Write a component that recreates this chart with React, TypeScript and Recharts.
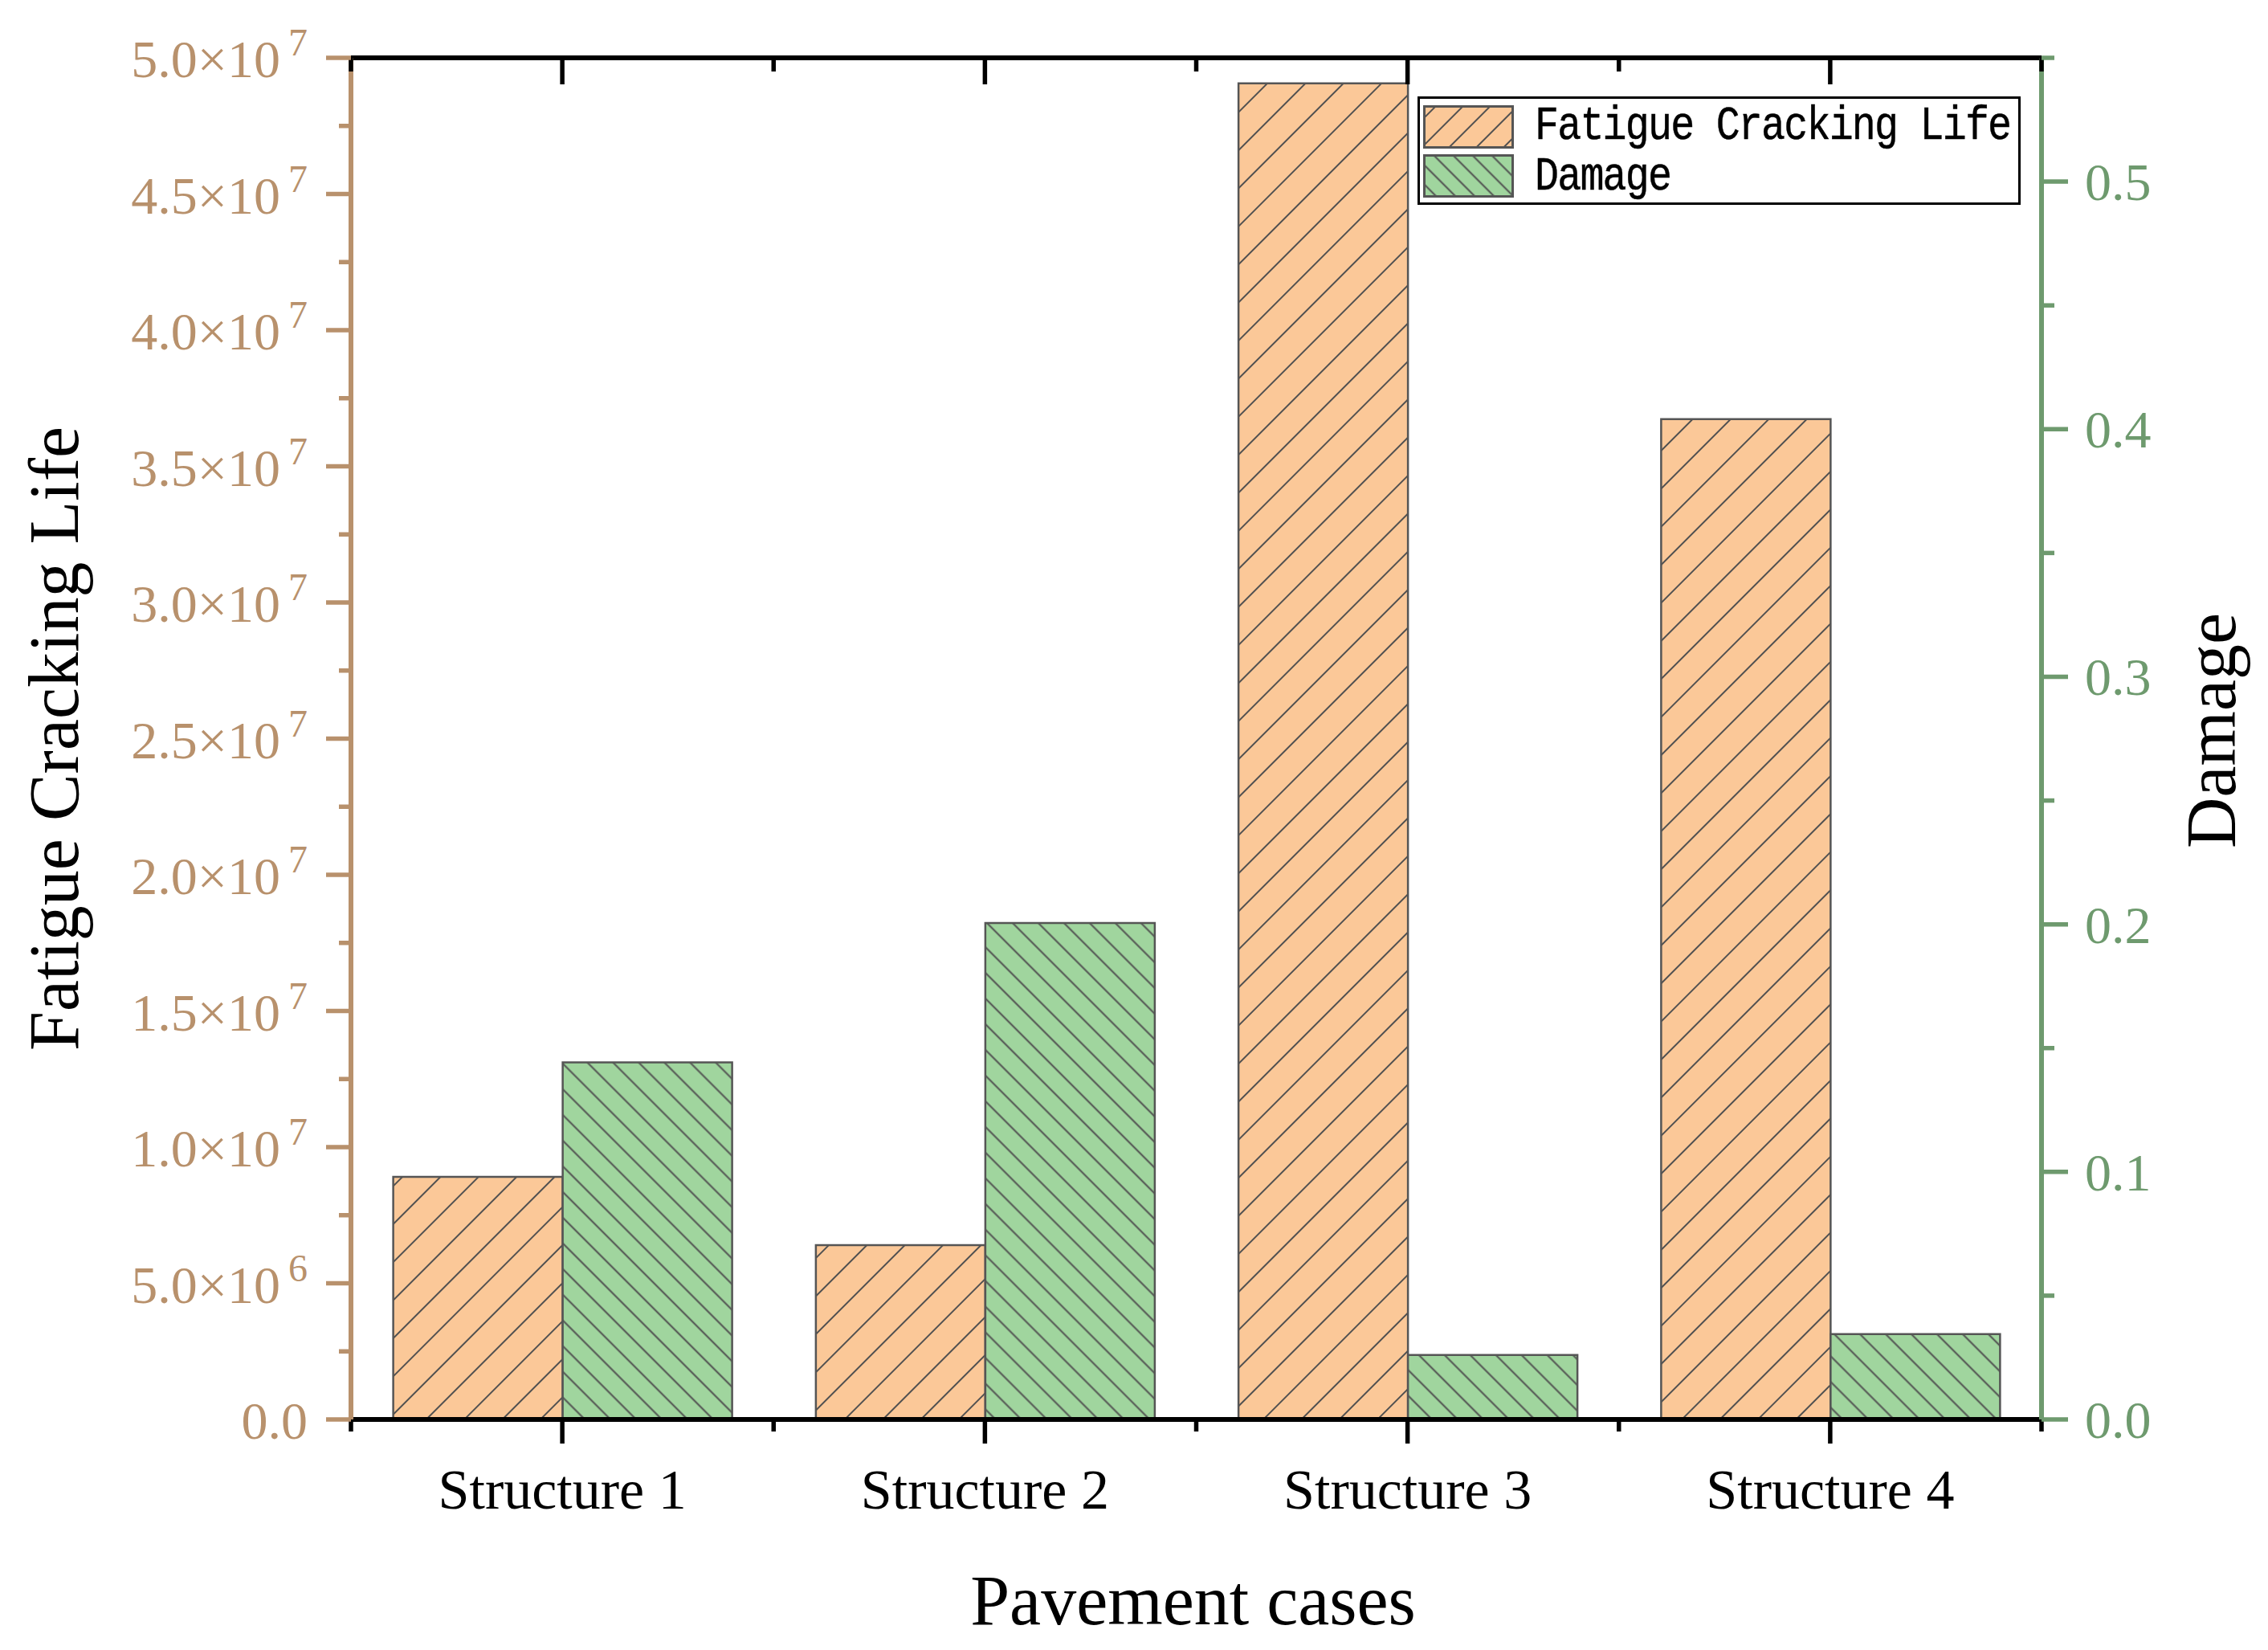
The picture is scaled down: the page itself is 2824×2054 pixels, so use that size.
import React from 'react';
import { ComposedChart, Bar, Line, XAxis, YAxis, Legend } from 'recharts';

// ---------- data ----------
const categories = ['Structure 1', 'Structure 2', 'Structure 3', 'Structure 4'];
const fatigueLife = [8.91e6, 6.4e6, 4.906e7, 3.673e7];
const damage = [0.1442, 0.2005, 0.026, 0.0345];
const seriesNames = ['Fatigue Cracking Life', 'Damage'];

const leftMajorTicks = [0, 5e6, 1e7, 1.5e7, 2e7, 2.5e7, 3e7, 3.5e7, 4e7, 4.5e7, 5e7];
const leftMinorTicks = [2.5e6, 7.5e6, 1.25e7, 1.75e7, 2.25e7, 2.75e7, 3.25e7, 3.75e7, 4.25e7, 4.75e7];
const rightMajorTicks = [0, 0.1, 0.2, 0.3, 0.4, 0.5];
const rightMinorTicks = [0.05, 0.15, 0.25, 0.35, 0.45, 0.55];

const data = categories.map((name, i) => ({ name, life: fatigueLife[i], damage: damage[i] }));
const leftAllTicks = [...leftMajorTicks, ...leftMinorTicks].sort((a, b) => a - b);
const rightAllTicks = [...rightMajorTicks, ...rightMinorTicks].sort((a, b) => a - b);

// ---------- styles ----------
const SERIF = "'Liberation Serif', 'Times New Roman', serif";
const MONO = "'Liberation Mono', 'Courier New', monospace";
const TAN = '#b8916c';
const GREEN_AXIS = '#6e9a6e';
const ORANGE = '#fbc898';
const GREEN = '#a0d59e';
const HATCH = '#505050';
const AXIS_W = 6;
const TICK_W = 5.5;
const CHART_W = 2824;
const CHART_H = 2054;
const LEFT_W = 437;
const RIGHT_W = 282;
const PLOT_W = CHART_W - LEFT_W - RIGHT_W;

const isMajor = (list: number[], v: number) => list.some((t) => Math.abs(t - v) < 1e-9 * Math.max(1, Math.abs(t)));

const formatLeft = (v: number) => {
  if (v === 0) return { mant: '0.0', exp: '' };
  const e = Math.floor(Math.log10(v) + 1e-9);
  const m = v / Math.pow(10, e);
  return { mant: m.toFixed(1), exp: String(e) };
};

const LeftTick = (props: any) => {
  const { x, y, payload } = props;
  const major = isMajor(leftMajorTicks, payload.value);
  const len = major ? 31 : 15;
  const { mant, exp } = formatLeft(payload.value);
  return (
    <g>
      <line x1={x - len} x2={x} y1={y} y2={y} stroke={TAN} strokeWidth={TICK_W} />
      {major ? (
        <text x={x - 54} y={y} dy={24} textAnchor="end" fill={TAN} fontSize={66} fontFamily={SERIF}>
          {exp ? `${mant}×10` : mant}
          {exp ? (
            <tspan dx={10} dy={-27} fontSize={48}>
              {exp}
            </tspan>
          ) : null}
        </text>
      ) : null}
    </g>
  );
};

const RightTick = (props: any) => {
  const { x, y, payload } = props;
  const major = isMajor(rightMajorTicks, payload.value);
  const len = major ? 33 : 16;
  return (
    <g>
      <line x1={x} x2={x + len} y1={y} y2={y} stroke={GREEN_AXIS} strokeWidth={TICK_W} />
      {major ? (
        <text x={x + 54} y={y} dy={23} textAnchor="start" fill={GREEN_AXIS} fontSize={66} fontFamily={SERIF}>
          {Number(payload.value).toFixed(1)}
        </text>
      ) : null}
    </g>
  );
};

const bandOf = (props: any) => {
  const w = Number(props.width);
  const n = Number(props.visibleTicksCount);
  if (w > 0 && n > 0 && w > 1000) return w / n;
  return PLOT_W / categories.length;
};

const BottomTick = (props: any) => {
  const { x, y, payload, index, visibleTicksCount } = props;
  const half = bandOf(props) / 2;
  const last = index === (visibleTicksCount || categories.length) - 1;
  return (
    <g>
      <line x1={x} x2={x} y1={y} y2={y + 30} stroke="#000" strokeWidth={TICK_W} />
      <line x1={x - half} x2={x - half} y1={y} y2={y + 15} stroke="#000" strokeWidth={TICK_W} />
      {last ? <line x1={x + half} x2={x + half} y1={y} y2={y + 15} stroke="#000" strokeWidth={TICK_W} /> : null}
      <text x={x} y={y} dy={111} textAnchor="middle" fill="#000" fontSize={70} fontFamily={SERIF}>
        {payload.value}
      </text>
    </g>
  );
};

const TopTick = (props: any) => {
  const { x, y, index, visibleTicksCount } = props;
  const half = bandOf(props) / 2;
  const last = index === (visibleTicksCount || categories.length) - 1;
  return (
    <g>
      <line x1={x} x2={x} y1={y} y2={y + 33} stroke="#000" strokeWidth={TICK_W} />
      <line x1={x - half} x2={x - half} y1={y} y2={y + 17} stroke="#000" strokeWidth={TICK_W} />
      {last ? <line x1={x + half} x2={x + half} y1={y} y2={y + 17} stroke="#000" strokeWidth={TICK_W} /> : null}
    </g>
  );
};

const leftTitle = (props: any) => {
  const vb = props.viewBox || {};
  const cx = vb.x + 97;
  const cy = vb.y + vb.height / 2;
  return (
    <text x={cx} y={cy} transform={`rotate(-90 ${cx} ${cy})`} textAnchor="middle" fill="#000" fontSize={88} fontFamily={SERIF}>
      Fatigue Cracking Life
    </text>
  );
};

const rightTitle = (props: any) => {
  const vb = props.viewBox || {};
  const cx = vb.x + 241;
  const cy = vb.y + vb.height / 2 - 10;
  return (
    <text x={cx} y={cy} transform={`rotate(-90 ${cx} ${cy})`} textAnchor="middle" fill="#000" fontSize={88} fontFamily={SERIF}>
      Damage
    </text>
  );
};

const bottomTitle = (props: any) => {
  const vb = props.viewBox || {};
  return (
    <text x={vb.x + vb.width / 2 - 4} y={vb.y + 255} textAnchor="middle" fill="#000" fontSize={88} fontFamily={SERIF}>
      Pavement cases
    </text>
  );
};

const Swatch = ({ id, fill, rot, spacing }: { id: string; fill: string; rot: number; spacing: number }) => (
  <svg width={113} height={54} style={{ display: 'block' }}>
    <defs>
      <pattern id={id} patternUnits="userSpaceOnUse" width={spacing} height={spacing} patternTransform={`rotate(${rot})`}>
        <rect width={spacing} height={spacing} fill={fill} />
        <line x1={spacing / 2} y1={0} x2={spacing / 2} y2={spacing} stroke={HATCH} strokeWidth={2} />
      </pattern>
    </defs>
    <rect x={1.5} y={1.5} width={110} height={51} fill={`url(#${id})`} stroke="#555" strokeWidth={3} />
  </svg>
);

const legendTextStyle: React.CSSProperties = {
  position: 'absolute',
  left: 143,
  fontFamily: MONO,
  fontSize: 50,
  letterSpacing: -1.8,
  lineHeight: 1,
  whiteSpace: 'nowrap',
  color: '#000',
  transform: 'translateY(-50%) scaleY(1.2)',
  transformOrigin: 'left center',
  WebkitTextStroke: '0.4px #000',
};

const renderLegend = () => (
  <div
    style={{
      position: 'relative',
      width: 751,
      height: 135,
      boxSizing: 'border-box',
      border: '3px solid #000',
      background: '#fff',
    }}
  >
    <div style={{ position: 'absolute', left: 4, top: 8 }}>
      <Swatch id="legOrange" fill={ORANGE} rot={45} spacing={24} />
    </div>
    <div style={{ position: 'absolute', left: 4, top: 69 }}>
      <Swatch id="legGreen" fill={GREEN} rot={-45} spacing={17} />
    </div>
    <div style={{ ...legendTextStyle, top: 34 }}>{seriesNames[0]}</div>
    <div style={{ ...legendTextStyle, top: 97 }}>{seriesNames[1]}</div>
  </div>
);

export default function App() {
  return (
    <div style={{ position: 'absolute', left: 0, top: 0, width: CHART_W, height: CHART_H, background: '#fff' }}>
      <ComposedChart
        width={CHART_W}
        height={CHART_H}
        data={data}
        margin={{ top: 72, right: 0, bottom: 97, left: 0 }}
        barCategoryGap="10%"
        barGap={0}
      >
        <defs>
          <pattern id="hatchOrange" patternUnits="userSpaceOnUse" width={33.5} height={33.5} patternTransform="rotate(45)">
            <rect width={33.5} height={33.5} fill={ORANGE} />
            <line x1={16.75} y1={0} x2={16.75} y2={33.5} stroke={HATCH} strokeWidth={2} />
          </pattern>
          <pattern id="hatchGreen" patternUnits="userSpaceOnUse" width={22.6} height={22.6} patternTransform="rotate(-45)">
            <rect width={22.6} height={22.6} fill={GREEN} />
            <line x1={11.3} y1={0} x2={11.3} y2={22.6} stroke={HATCH} strokeWidth={2} />
          </pattern>
        </defs>

        <XAxis
          xAxisId="x"
          dataKey="name"
          type="category"
          height={190}
          interval={0}
          tickSize={0}
          tickMargin={0}
          tickLine={false}
          axisLine={{ stroke: '#000', strokeWidth: AXIS_W }}
          tick={<BottomTick />}
          label={bottomTitle}
        />
        <XAxis
          xAxisId="xTop"
          dataKey="name"
          type="category"
          orientation="top"
          mirror
          height={40}
          interval={0}
          tickSize={0}
          tickMargin={0}
          tickLine={false}
          axisLine={{ stroke: '#000', strokeWidth: AXIS_W }}
          tick={<TopTick />}
        />

        <YAxis
          yAxisId="yL"
          orientation="left"
          type="number"
          domain={[0, 5e7]}
          ticks={leftAllTicks}
          allowDataOverflow
          interval={0}
          width={LEFT_W}
          tickSize={0}
          tickMargin={0}
          tickLine={false}
          axisLine={{ stroke: TAN, strokeWidth: AXIS_W }}
          tick={<LeftTick />}
          label={leftTitle}
        />
        <YAxis
          yAxisId="yR"
          orientation="right"
          type="number"
          domain={[0, 0.55]}
          ticks={rightAllTicks}
          allowDataOverflow
          interval={0}
          width={RIGHT_W}
          tickSize={0}
          tickMargin={0}
          tickLine={false}
          axisLine={{ stroke: GREEN_AXIS, strokeWidth: AXIS_W }}
          tick={<RightTick />}
          label={rightTitle}
        />

        <Bar
          dataKey="life"
          name={seriesNames[0]}
          xAxisId="x"
          yAxisId="yL"
          fill="url(#hatchOrange)"
          stroke="#555"
          strokeWidth={2.5}
          isAnimationActive={false}
        />
        <Bar
          dataKey="damage"
          name={seriesNames[1]}
          xAxisId="x"
          yAxisId="yR"
          fill="url(#hatchGreen)"
          stroke="#555"
          strokeWidth={2.5}
          isAnimationActive={false}
        />
        {/* invisible series that anchors the mirrored top frame axis */}
        <Line
          dataKey="life"
          xAxisId="xTop"
          yAxisId="yL"
          stroke="none"
          dot={false}
          activeDot={false}
          legendType="none"
          isAnimationActive={false}
        />

        <Legend
          layout="horizontal"
          align="center"
          verticalAlign="middle"
          content={renderLegend}
          wrapperStyle={{ left: 1765, top: 120, width: 751, height: 135 }}
        />
      </ComposedChart>
    </div>
  );
}
